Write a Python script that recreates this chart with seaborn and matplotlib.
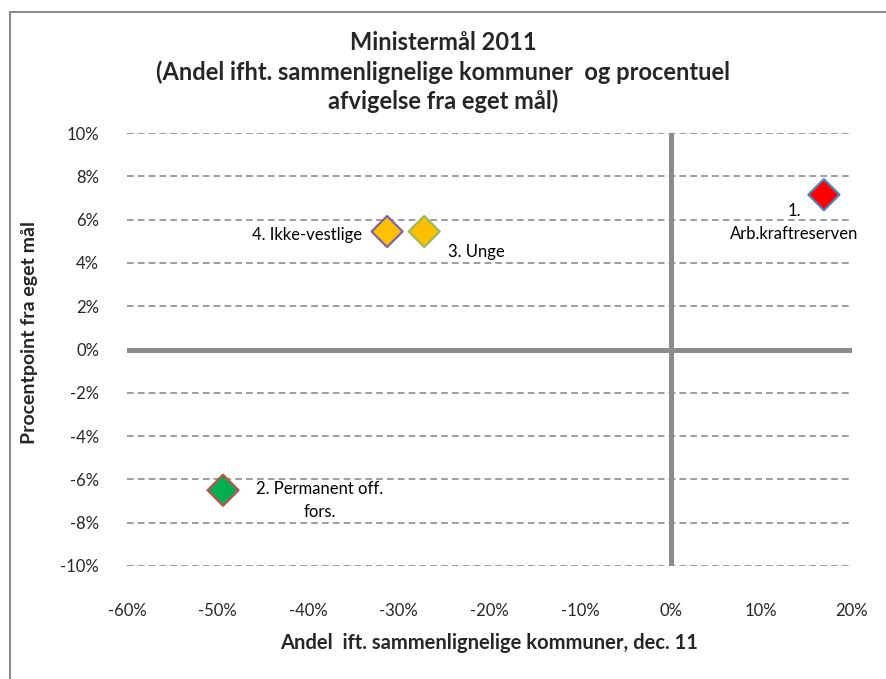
import matplotlib
matplotlib.use('Agg')
import matplotlib.pyplot as plt
import seaborn as sns
import pandas as pd
from matplotlib.lines import Line2D
from matplotlib.ticker import PercentFormatter

# data
labels = ['1.\nArb.kraftreserven', '2. Permanent off.\nfors.', '3. Unge', '4. Ikke-vestlige']
andel = [16.9, -49.4, -27.2, -31.3]          # x, % ift. sammenlignelige kommuner
afvigelse = [7.15, -6.5, 5.45, 5.45]          # y, procentpoint fra eget mål
fill_colors = ['#FF0000', '#00B050', '#FFC000', '#FFC000']
edge_colors = ['#4F81BD', '#C0504D', '#9BBB59', '#8064A2']
x_ticks = [-60, -50, -40, -30, -20, -10, 0, 10, 20]
y_ticks = [-10, -8, -6, -4, -2, 0, 2, 4, 6, 8, 10]

df = pd.DataFrame({'label': labels, 'x': andel, 'y': afvigelse})

sns.set_theme(style='white')
plt.rcParams['font.family'] = ['Lato', 'DejaVu Sans']
plt.rcParams['axes.unicode_minus'] = False

W, H = 886, 679
fig = plt.figure(figsize=(W / 100, H / 100), dpi=100)
ax = fig.add_axes([127 / W, 1 - 566 / H, (852 - 127) / W, (566 - 133) / H])

# dashed grid at every y tick
for yt in y_ticks:
    ax.axhline(yt, color='#8C8C8C', lw=1.2, ls=(0, (4, 2.5)), zorder=1)
ax.axhline(0, color='#8C8C8C', lw=3.6, zorder=2)
ax.axvline(0, color='#8C8C8C', lw=3.6, zorder=2)

sns.scatterplot(data=df, x='x', y='y', hue='label', palette=fill_colors,
                marker='D', s=250, legend=False, ax=ax, zorder=3, linewidth=0)
ax.collections[-1].set_edgecolors(edge_colors)
ax.collections[-1].set_linewidths(1.6)

offsets = [(-30, -8, 'center', 'top'), (97, -10, 'center', 'center'),
           (24, -20, 'left', 'center'), (-25, -3, 'right', 'center')]
for (lab, xv, yv), (dx, dy, ha, va) in zip(df[['label', 'x', 'y']].values, offsets):
    ax.annotate(lab, (xv, yv), xytext=(dx, dy), textcoords='offset pixels',
                ha=ha, va=va, ma='center', fontsize=12, color='#000000',
                linespacing=1.55, zorder=4)

ax.set_xlim(-60, 20)
ax.set_ylim(-10, 10)
ax.set_xticks(x_ticks)
ax.set_yticks(y_ticks)
ax.xaxis.set_major_formatter(PercentFormatter(decimals=0))
ax.yaxis.set_major_formatter(PercentFormatter(decimals=0))
ax.tick_params(axis='x', length=0, pad=27, labelsize=12)
ax.tick_params(axis='y', length=0, pad=20, labelsize=12)
for sp in ax.spines.values():
    sp.set_visible(False)

ax.set_xlabel('Andel  ift. sammenlignelige kommuner, dec. 11', fontsize=14.5,
              fontweight='bold', labelpad=10)
ax.set_ylabel('')
fig.text(30 / W, 1 - 332 / H, 'Procentpoint fra eget mål', rotation=90,
         ha='center', va='center', fontsize=14, fontweight='bold')

fig.text(0.5, 1 - 72 / H,
         'Ministermål 2011\n(Andel ifht. sammenlignelige kommuner  og procentuel\nafvigelse fra eget mål)',
         ha='center', va='center', fontsize=17, fontweight='bold', linespacing=1.3)

# chart area frame (top and left edges visible)
fig.add_artist(Line2D([10 / W, 1], [1 - 12 / H, 1 - 12 / H], color='#8C8C8C', lw=1.5,
                      transform=fig.transFigure))
fig.add_artist(Line2D([10 / W, 10 / W], [0, 1 - 12 / H], color='#8C8C8C', lw=1.5,
                      transform=fig.transFigure))

fig.savefig('out.png', dpi=100)
